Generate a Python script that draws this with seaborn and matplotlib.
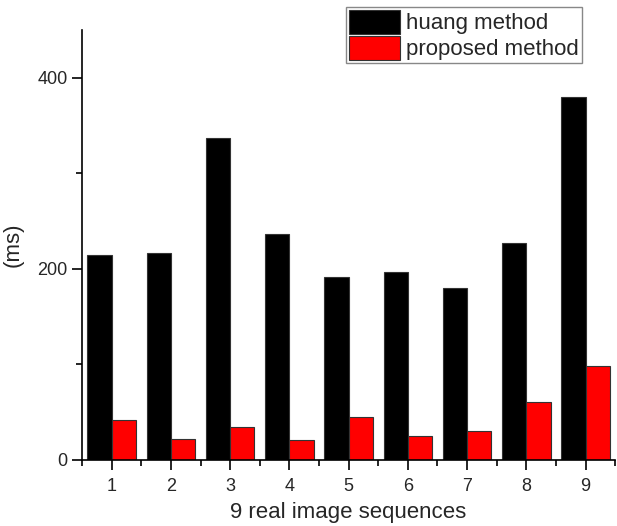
import seaborn as sns
import pandas as pd
import numpy as np
import matplotlib.pyplot as plt
from matplotlib.ticker import FixedLocator

# 9 real image sequences, processing time (ms)
sequences = ['1', '2', '3', '4', '5', '6', '7', '8', '9']
huang_ms = [214, 217, 337, 236, 191, 197, 180, 227, 380]
proposed_ms = [42, 22, 34, 21, 45, 25, 30, 61, 98]
methods = ['huang method', 'proposed method']

df = pd.DataFrame({
    'sequence': sequences * 2,
    'ms': huang_ms + proposed_ms,
    'method': [methods[0]] * len(sequences) + [methods[1]] * len(sequences),
})

sns.set_style('ticks')
plt.rcParams['font.family'] = ['Liberation Sans', 'DejaVu Sans']

fig = plt.figure(figsize=(6.17, 5.26), dpi=100)
ax = fig.add_axes([0.133, 0.1255, 0.864, 0.8175])

sns.barplot(
    data=df, x='sequence', y='ms', hue='method',
    palette=['black', '#ff0000'], saturation=1, width=0.82,
    edgecolor='#333333', linewidth=0.8, ax=ax,
)

ax.set_xlim(-0.5, 8.5)
ax.set_ylim(0, 450)
ax.set_yticks([0, 200, 400])
ax.yaxis.set_minor_locator(FixedLocator([100, 300]))
ax.xaxis.set_minor_locator(FixedLocator(np.arange(-0.5, 9, 1.0)))
ax.tick_params(axis='both', which='major', labelsize=13, length=7, width=1.2, color='black')
ax.tick_params(axis='both', which='minor', length=4, width=1.2, color='black')
ax.tick_params(axis='x', which='major', pad=6)

ax.set_xlabel('9 real image sequences', fontsize=16, labelpad=5)
ax.set_ylabel('(ms)', fontsize=16, labelpad=10)

sns.despine(ax=ax)
for s in ['left', 'bottom']:
    ax.spines[s].set_linewidth(1.2)
    ax.spines[s].set_color('black')

ax.legend(
    loc='upper right', bbox_to_anchor=(0.943, 0.987), bbox_transform=fig.transFigure,
    fontsize=16, frameon=True, fancybox=False, edgecolor='#888888',
    handlelength=2.3, handleheight=1.3, handletextpad=0.3,
    labelspacing=0.08, borderpad=0.12, borderaxespad=0, framealpha=1,
)

fig.savefig('out.png', dpi=100)
plt.close(fig)
